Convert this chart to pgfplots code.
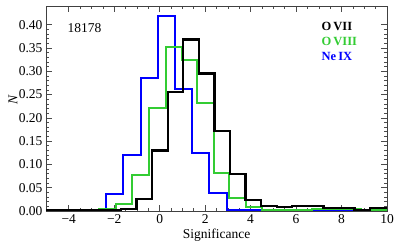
\documentclass[border=0pt]{standalone}
\usepackage{fontspec}
\setmainfont{Liberation Serif}
\usepackage{pgfplots}
\pgfplotsset{compat=1.18}
\definecolor{mygreen}{RGB}{51,204,51}
\definecolor{myblue}{RGB}{0,0,255}
\begin{document}
\begin{tikzpicture}
\begin{axis}[
  scale only axis,
  width=341pt, height=205pt,
  at={(0pt,0pt)}, anchor=south west,
  xmin=-5, xmax=10, ymin=0, ymax=0.44,
  xtick={-4,-2,0,2,4,6,8,10},
  xticklabels={−4,−2,0,2,4,6,8,10},
  ytick={0,0.05,0.10,0.15,0.20,0.25,0.30,0.35,0.40},
  minor x tick num=3,
  minor y tick num=4,
  tick align=inside,
  major tick length=6pt,
  minor tick length=3pt,
  axis line style={black!75, line width=0.8pt},
  every tick/.style={black!70, line width=0.6pt},
  /pgf/number format/assume math mode=true,
  yticklabel style={/pgf/number format/.cd, fixed, fixed zerofill, precision=2},
  tick label style={font=\fontsize{13.5}{15}\selectfont},
  xlabel={Significance},
  ylabel={\itshape N},
  label style={font=\fontsize{13.5}{15}\selectfont},
  xlabel style={at={(axis description cs:0.5,-0.117)}, anchor=center},
  ylabel style={at={(axis description cs:-0.097,0.54)}, anchor=center},
  clip=true,
]
\addplot[myblue, line width=2pt, const plot mark left] coordinates {
(-5,0.001) (-2.35,0.036) (-1.593,0.12) (-0.836,0.286) (-0.079,0.419) (0.678,0.261) (1.435,0.124) (2.192,0.039) (2.949,0.003) (3.706,0.002) (4.463,0.001) (5.22,0.001) (5.977,0.001) (6.6,0.0) (10,0.0)
};
\addplot[mygreen, line width=2pt, const plot mark left] coordinates {
(-5,0.001) (-4.1,0.003) (-3.4,0.001) (-2.66,0.004) (-1.94,0.015) (-1.21,0.077) (-0.47,0.22) (0.26,0.352) (0.98,0.325) (1.66,0.232) (2.37,0.082) (3.07,0.027) (3.8,0.008) (4.52,0.003) (5.24,0.002) (5.96,0.002) (6.68,0.004) (7.4,0.004) (8.12,0.004) (8.84,0.002) (10,0.002)
};
\addplot[black, line width=2.3pt, const plot mark left] coordinates {
(-5,0.001) (-1.70,0.005) (-1.015,0.025) (-0.33,0.13) (0.355,0.255) (1.04,0.368) (1.725,0.295) (2.41,0.172) (3.095,0.079) (3.78,0.024) (4.465,0.011) (5.15,0.009) (5.835,0.011) (6.52,0.011) (7.205,0.006) (7.89,0.006) (8.575,0.001) (9.26,0.006) (10,0.006)
};
\node[anchor=west, font=\fontsize{13.5}{15}\selectfont] at (rel axis cs:0.053,0.894) {18178};
\node[anchor=west, font=\bfseries\fontsize{12.5}{15}\selectfont, text=black] at (rel axis cs:0.798,0.899) {O\,VII};
\node[anchor=west, font=\bfseries\fontsize{12.5}{15}\selectfont, text=mygreen] at (rel axis cs:0.798,0.826) {O\,VIII};
\node[anchor=west, font=\bfseries\fontsize{12.5}{15}\selectfont, text=myblue] at (rel axis cs:0.798,0.756) {Ne\,IX};
\end{axis}
\pgfresetboundingbox
\path[use as bounding box] (-46pt,-37pt) rectangle (353pt,211pt);
\end{tikzpicture}
\end{document}
